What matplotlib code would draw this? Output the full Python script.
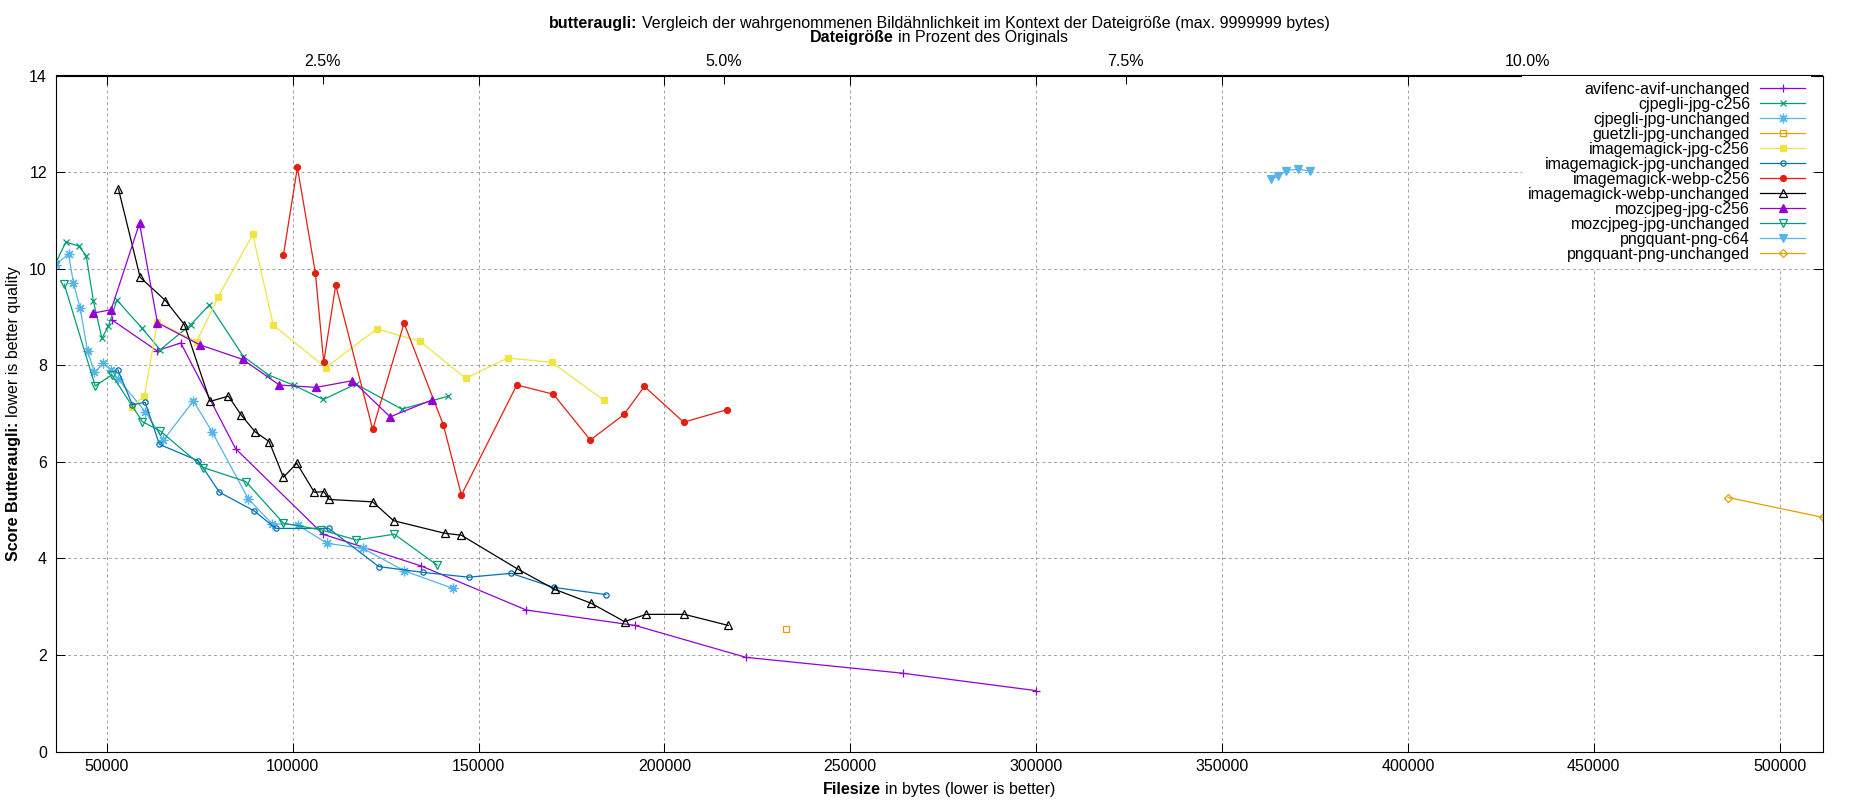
import matplotlib
matplotlib.use('Agg')
import matplotlib.pyplot as plt
from matplotlib.ticker import MultipleLocator, NullLocator, FuncFormatter
import numpy as np

plt.rcParams['font.family'] = ['Liberation Sans', 'DejaVu Sans']

# ---------------- data ----------------
ORIGINAL_BYTES = 4321000

series_names = [
    'avifenc-avif-unchanged', 'cjpegli-jpg-c256', 'cjpegli-jpg-unchanged',
    'guetzli-jpg-unchanged', 'imagemagick-jpg-c256', 'imagemagick-jpg-unchanged',
    'imagemagick-webp-c256', 'imagemagick-webp-unchanged', 'mozcjpeg-jpg-c256',
    'mozcjpeg-jpg-unchanged', 'pngquant-png-c64', 'pngquant-png-unchanged',
]

avifenc_x = [51340, 63440, 69890, 84640, 108170, 134640, 162840, 192140, 221930, 264220, 300000]
avifenc_y = [8.94, 8.30, 8.46, 6.27, 4.50, 3.84, 2.93, 2.61, 1.95, 1.62, 1.26]

cjpegli_c256_x = [36180, 38970, 42370, 44430, 46400, 48650, 50430, 52690, 59410, 64330,
                  72580, 77600, 86740, 93460, 100400, 108270, 116980, 129360, 141880]
cjpegli_c256_y = [10.11, 10.55, 10.47, 10.27, 9.32, 8.56, 8.81, 9.35, 8.77, 8.32,
                  8.84, 9.25, 8.18, 7.80, 7.58, 7.29, 7.61, 7.09, 7.36]

cjpegli_unch_x = [36180, 39680, 41020, 42820, 44790, 46670, 49090, 51160, 52960, 60300,
                  65220, 73280, 78390, 88070, 94400, 101340, 109240, 118830, 130040, 143020]
cjpegli_unch_y = [10.08, 10.30, 9.70, 9.18, 8.30, 7.85, 8.04, 7.90, 7.72, 7.04,
                  6.45, 7.26, 6.61, 5.23, 4.72, 4.69, 4.31, 4.21, 3.74, 3.38]

guetzli_x = [232680]
guetzli_y = [2.53]

im_jpg_c256_x = [56720, 60110, 63600, 74190, 80000, 89240, 94780, 108880, 122600, 134160,
                 146530, 157820, 169650, 183820]
im_jpg_c256_y = [7.13, 7.37, 8.89, 8.49, 9.42, 10.71, 8.83, 7.95, 8.75, 8.50,
                 7.73, 8.15, 8.06, 7.27]

im_jpg_unch_x = [52960, 56890, 60300, 64140, 74630, 80270, 89680, 95430, 109680, 123130,
                 134960, 147330, 158730, 170190, 184270]
im_jpg_unch_y = [7.90, 7.18, 7.23, 6.36, 6.02, 5.37, 4.98, 4.62, 4.62, 3.83,
                 3.71, 3.61, 3.69, 3.40, 3.25]

im_webp_c256_x = [97500, 101260, 106100, 108340, 111570, 121520, 129950, 140540, 145380,
                  160280, 170120, 180070, 189130, 194600, 205180, 216840]
im_webp_c256_y = [10.28, 12.10, 9.91, 8.06, 9.66, 6.67, 8.87, 6.76, 5.31,
                  7.59, 7.40, 6.45, 6.98, 7.56, 6.82, 7.08]

im_webp_unch_x = [53120, 58950, 65750, 70860, 77770, 82700, 86120, 89880, 93650, 97500,
                  101100, 105800, 108400, 109800, 121500, 127150, 140860, 145350, 160490,
                  170440, 180300, 189260, 195090, 205390, 217220]
im_webp_unch_y = [11.65, 9.82, 9.34, 8.84, 7.25, 7.36, 6.97, 6.62, 6.42, 5.68,
                  5.97, 5.37, 5.38, 5.22, 5.17, 4.78, 4.52, 4.48, 3.78,
                  3.36, 3.07, 2.69, 2.84, 2.84, 2.61]

moz_c256_x = [46400, 51160, 58780, 63600, 75080, 86560, 96400, 106290, 116070, 126220, 137430]
moz_c256_y = [9.08, 9.15, 10.94, 8.88, 8.42, 8.12, 7.59, 7.54, 7.68, 6.93, 7.28]

moz_unch_x = [38530, 46860, 51340, 59580, 64330, 75980, 87370, 97480, 107640, 117130, 127350, 138830]
moz_unch_y = [9.68, 7.57, 7.80, 6.83, 6.64, 5.88, 5.59, 4.73, 4.59, 4.38, 4.50, 3.86]

pngq_c64_x = [363150, 365120, 367200, 370500, 373650]
pngq_c64_y = [11.855, 11.91, 12.03, 12.06, 12.02]

pngq_unch_x = [486150, 511560]
pngq_unch_y = [5.26, 4.85]

y_ticks = [0, 2, 4, 6, 8, 10, 12, 14]
x2_ticks = [2.5, 5.0, 7.5, 10.0]
x2_labels = ['2.5%', '5.0%', '7.5%', '10.0%']

series_x = [avifenc_x, cjpegli_c256_x, cjpegli_unch_x, guetzli_x, im_jpg_c256_x, im_jpg_unch_x,
            im_webp_c256_x, im_webp_unch_x, moz_c256_x, moz_unch_x, pngq_c64_x, pngq_unch_x]
series_y = [avifenc_y, cjpegli_c256_y, cjpegli_unch_y, guetzli_y, im_jpg_c256_y, im_jpg_unch_y,
            im_webp_c256_y, im_webp_unch_y, moz_c256_y, moz_unch_y, pngq_c64_y, pngq_unch_y]

# ---------------- styles ----------------
colors = ['#9400d3', '#009e73', '#56b4e9', '#e69f00', '#f0e442', '#0072b2',
          '#e51e10', '#000000', '#9400d3', '#009e73', '#56b4e9', '#e69f00']
markers = ['+', 'x', (8, 2, 0), 's', 's', 'o', 'o', '^', '^', 'v', 'v', 'D']
filled = [True, True, True, False, True, False, True, False, True, False, True, False]
msizes = [5.5, 4.8, 7.0, 4.6, 4.8, 3.8, 4.3, 6.3, 6.3, 6.3, 6.3, 3.6]

W, H, DPI = 1850, 800, 100
FS = 11.5
L, R, T, B = 55.5, 1822.5, 75.5, 751.5

fig = plt.figure(figsize=(W / DPI, H / DPI), dpi=DPI)
ax = fig.add_axes([L / W, 1 - B / H, (R - L) / W, (B - T) / H])

for name, xs, ys, c, m, f, ms in zip(series_names, series_x, series_y, colors, markers, filled, msizes):
    ax.plot(xs, ys, color=c, lw=0.9, marker=m, markersize=ms,
            markerfacecolor=(c if f else 'none'), markeredgecolor=c,
            markeredgewidth=0.9, label=name)

all_x = [v for xs in series_x for v in xs]
ax.set_xlim(min(all_x), max(all_x))
ax.set_ylim(y_ticks[0], y_ticks[-1])
ax.set_yticks(y_ticks)
ax.xaxis.set_major_locator(MultipleLocator(50000))
ax.xaxis.set_major_formatter(FuncFormatter(lambda v, p: '%d' % v))
ax.yaxis.set_major_formatter(FuncFormatter(lambda v, p: '%d' % v))

ax.set_axisbelow(True)
ax.grid(True, color='#a0a0a0', lw=0.7, linestyle=(0, (3, 3)))
for s in ax.spines.values():
    s.set_linewidth(0.8)
ax.tick_params(direction='in', length=6.5, width=0.75, top=True, right=True, labelsize=FS)
ax.tick_params(axis='x', pad=5.6)
ax.tick_params(axis='y', pad=6.2)


def to_pct(x):
    return np.asarray(x, dtype=float) / ORIGINAL_BYTES * 100.0


def to_bytes(p):
    return np.asarray(p, dtype=float) * ORIGINAL_BYTES / 100.0


sec = ax.secondary_xaxis('top', functions=(to_pct, to_bytes))
sec.set_xticks(x2_ticks)
sec.set_xticklabels(x2_labels)
sec.xaxis.set_minor_locator(NullLocator())
sec.tick_params(direction='in', length=6.5, width=0.75, labelsize=FS, pad=5)
sec.spines['top'].set_linewidth(0.8)

leg = ax.legend(loc='upper right', bbox_to_anchor=(1811.4 / W, 1 - T / H),
                bbox_transform=fig.transFigure, borderaxespad=0, borderpad=0.4,
                fontsize=FS, markerfirst=False, handlelength=2.8, handletextpad=0.63,
                labelspacing=0.0, frameon=True, fancybox=False, framealpha=1,
                facecolor='white', edgecolor='none')
try:
    for col in leg._legend_handle_box.get_children():
        col.align = 'right'
except Exception:
    pass

# ---------------- mixed-weight texts ----------------
renderer = fig.canvas.get_renderer()


def measure(s, weight, rotation=0):
    t = fig.text(0, 0, s, fontsize=FS, fontweight=weight, rotation=rotation, transform=None)
    bb = t.get_window_extent(renderer)
    t.remove()
    return bb.height if rotation else bb.width


SPACE = measure('a a', 'normal') - measure('aa', 'normal')


def mixed_text(parts, cx, cy, rotation=0):
    widths = [measure(s, w, rotation) for s, w in parts]
    total = sum(widths) + SPACE * (len(parts) - 1)
    pos = -total / 2.0
    for (s, w), wd in zip(parts, widths):
        if rotation:
            fig.text(cx, cy + pos, s, fontsize=FS, fontweight=w, rotation=90,
                     rotation_mode='anchor', ha='left', va='baseline', transform=None)
        else:
            fig.text(cx + pos, cy, s, fontsize=FS, fontweight=w,
                     ha='left', va='baseline', transform=None)
        pos += wd + SPACE


CX = (L + R) / 2.0
mixed_text([('butteraugli:', 'bold'),
            ('Vergleich der wahrgenommenen Bildähnlichkeit im Kontext der Dateigröße (max. 9999999 bytes)', 'normal')],
           CX, H - 28.2)
mixed_text([('Dateigröße', 'bold'), ('in Prozent des Originals', 'normal')], CX, H - 41.7)
mixed_text([('Filesize', 'bold'), ('in bytes (lower is better)', 'normal')], CX, H - 794.3)
mixed_text([('Score Butteraugli:', 'bold'), ('lower is better quality', 'normal')],
           18.3, H - (T + B) / 2.0, rotation=90)

fig.savefig('out.png', dpi=DPI)
